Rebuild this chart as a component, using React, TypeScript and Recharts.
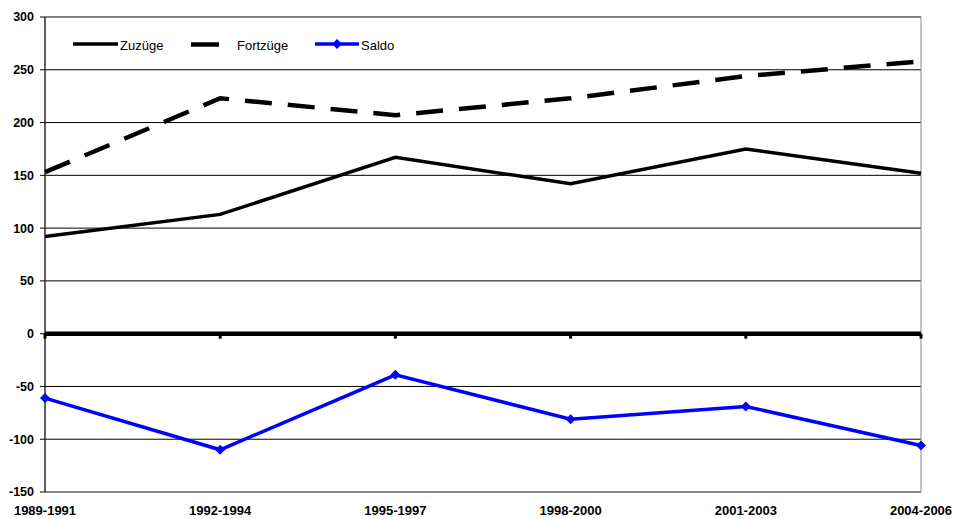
import React from 'react';
import { LineChart, Line, XAxis, YAxis, CartesianGrid, ReferenceLine, ReferenceArea, ReferenceDot } from 'recharts';

// Zeitraeume (Kategorien)
const periods = ['1989-1991', '1992-1994', '1995-1997', '1998-2000', '2001-2003', '2004-2006'];
// Werte je Reihe
const zuzuege = [92, 113, 167, 142, 175, 152];
const fortzuege = [153, 223, 207, 223, 244, 258];
const saldo = [-61, -110, -39, -81, -69, -106];
const yTicks = [-150, -100, -50, 0, 50, 100, 150, 200, 250, 300];

const data = periods.map((p, i) => ({
  period: p,
  Zuzüge: zuzuege[i],
  Fortzüge: fortzuege[i],
  Saldo: saldo[i],
}));

const font = 'Liberation Sans, Arial, sans-serif';

const Diamond = (props: any) => {
  const { cx, cy } = props;
  if (cx == null || cy == null) return null;
  const r = 5;
  return <polygon points={`${cx},${cy - r} ${cx + r},${cy} ${cx},${cy + r} ${cx - r},${cy}`} fill="#0000ff" />;
};

const ZeroTick = (props: any) => {
  const { cx, cy } = props;
  if (cx == null || cy == null) return null;
  return <line x1={cx} y1={cy} x2={cx} y2={cy + 5} stroke="#000" strokeWidth={3} />;
};

// Legende innerhalb der Zeichenflaeche
const LegendBox = () => (
  <svg width={400} height={30} style={{ position: 'absolute', left: 60, top: 30, fontFamily: font, fontSize: 13 }}>
    <line x1={13} y1={14} x2={58} y2={14} stroke="#000" strokeWidth={3.5} />
    <text x={60} y={20} fill="#000">Zuzüge</text>
    <line x1={131} y1={14.5} x2={159} y2={14.5} stroke="#000" strokeWidth={4.5} />
    <text x={177} y={20} fill="#000">Fortzüge</text>
    <line x1={255} y1={14} x2={299} y2={14} stroke="#0000ff" strokeWidth={3.5} />
    <polygon points="277,9 282,14 277,19 272,14" fill="#0000ff" />
    <text x={301} y={20} fill="#000">Saldo</text>
  </svg>
);

export default function App() {
  return (
    <div style={{ position: 'absolute', left: 0, top: 0, width: 953, height: 519, overflow: 'hidden', background: '#fff' }}>
      <LineChart width={953} height={532} data={data} margin={{ top: 17, right: 32, bottom: 10, left: 0 }}>
        <CartesianGrid vertical={false} stroke="#000" strokeWidth={1} />
        <ReferenceArea x1={periods[0]} x2={periods[periods.length - 1]} y1={-150} y2={300} fill="none" stroke="#888" strokeWidth={1} />
        <XAxis
          dataKey="period"
          height={30}
          axisLine={{ stroke: '#888' }}
          tickLine={false}
          tickMargin={8}
          interval={0}
          tick={{ fill: '#000', fontSize: 13, fontWeight: 'bold', fontFamily: font }}
        />
        <YAxis
          width={45}
          domain={[-150, 300]}
          ticks={yTicks}
          interval={0}
          axisLine={{ stroke: '#000' }}
          tickLine={{ stroke: '#000' }}
          tickSize={5}
          tickMargin={6}
          tick={{ fill: '#000', fontSize: 12.5, fontWeight: 'bold', fontFamily: font }}
        />
        <ReferenceLine y={0} stroke="#000" strokeWidth={4.5} />
        {periods.map((p) => (
          <ReferenceDot key={p} x={p} y={0} shape={ZeroTick} />
        ))}
        <Line dataKey="Zuzüge" stroke="#000" strokeWidth={3.5} dot={false} isAnimationActive={false} />
        <Line dataKey="Fortzüge" stroke="#000" strokeWidth={4.5} strokeDasharray="27 16" dot={false} isAnimationActive={false} />
        <Line dataKey="Saldo" stroke="#0000ff" strokeWidth={3.5} dot={Diamond} activeDot={false} isAnimationActive={false} />
      </LineChart>
      <LegendBox />
    </div>
  );
}
